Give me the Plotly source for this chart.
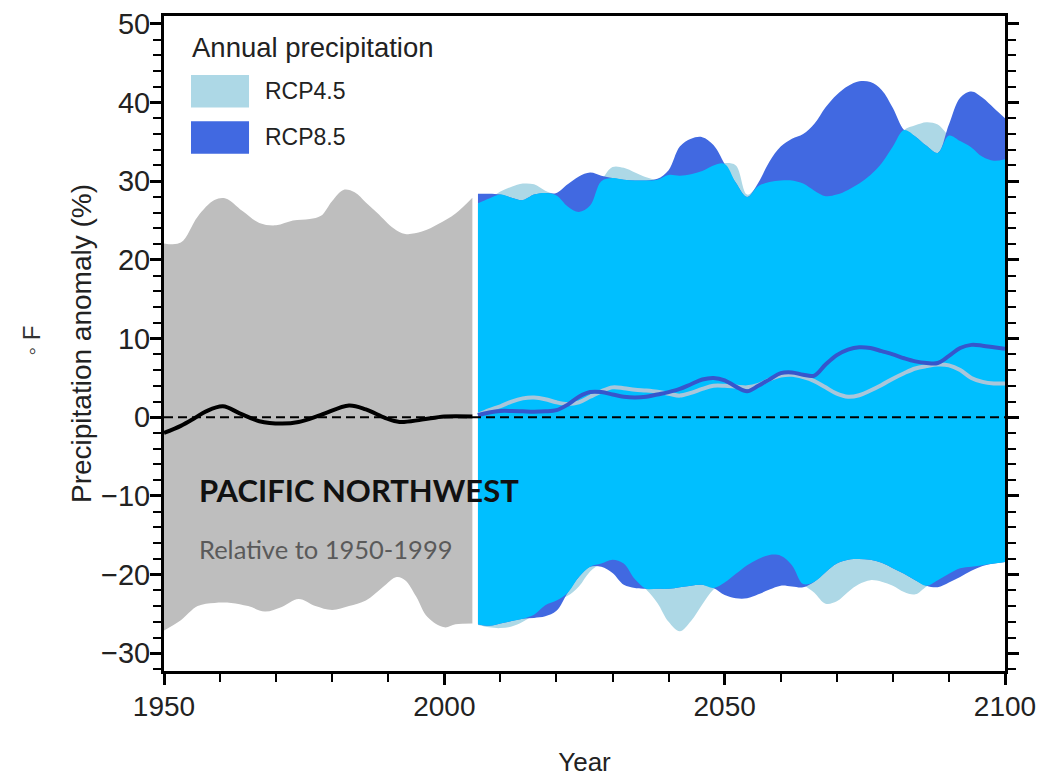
import numpy as np
import plotly.graph_objects as go

# ---------------- data ----------------
# historical (1950-2005) model range and mean
hist_up_years = [1950, 1953, 1956, 1959, 1961, 1964, 1967, 1970, 1973, 1976, 1978,
                 1980, 1982, 1984, 1986, 1988, 1991, 1993, 1996, 1999, 2002, 2005]
hist_up = [22.1, 22.2, 25.5, 27.6, 27.8, 26.2, 24.7, 24.4, 25.0, 25.2, 25.6,
           27.5, 28.9, 28.6, 27.3, 26.0, 24.0, 23.3, 23.6, 24.6, 25.9, 27.9]

hist_lo_years = [1950, 1953, 1956, 1959, 1962, 1965, 1968, 1971, 1974, 1977, 1980,
                 1983, 1986, 1989, 1991.5, 1993, 1995, 1997, 2000, 2002, 2005]
hist_lo = [-27.1, -25.8, -24.0, -23.6, -23.6, -24.0, -24.7, -24.1, -23.1, -24.0, -24.5,
           -24.0, -23.3, -21.6, -20.3, -20.7, -22.8, -25.4, -26.7, -26.3, -26.2]

hist_mean_years = [1950, 1953, 1955.5, 1957.5, 1960.5, 1963.5, 1967, 1971, 1974, 1978,
                   1983, 1986, 1989.5, 1992, 1996, 2000, 2005]
hist_mean = [-2.0, -1.1, -0.1, 0.75, 1.4, 0.5, -0.5, -0.8, -0.6, 0.3,
             1.5, 1.0, -0.1, -0.6, -0.3, 0.1, 0.1]

# projections (2006-2100)
proj_years = list(range(2006, 2101, 2))

rcp45_upper = [27.2, 27.8, 28.7, 29.3, 29.7, 29.6, 28.8, 28.2, 26.8, 26.1,
               26.9, 30.0, 31.8, 31.7, 31.1, 30.5, 30.2, 30.8, 30.7, 30.9,
               31.3, 32.0, 32.3, 32.0, 28.3, 29.4, 29.9, 30.1, 30.1, 29.7,
               28.8, 28.1, 28.3, 28.9, 29.7, 30.8, 32.3, 34.4, 36.5, 37.1,
               37.5, 37.2, 35.8, 35.1, 34.3, 33.1, 32.6, 32.8]
rcp85_upper = [28.4, 28.4, 28.3, 27.9, 27.6, 28.3, 28.5, 28.5, 29.6, 30.6,
               31.1, 30.7, 30.4, 30.2, 30.1, 30.1, 30.3, 31.4, 34.4, 35.4,
               35.6, 34.6, 32.2, 29.8, 28.0, 29.8, 32.5, 34.4, 35.4, 36.0,
               37.3, 39.4, 41.0, 42.1, 42.7, 42.6, 41.6, 39.3, 36.5, 35.7,
               34.5, 33.6, 37.2, 40.6, 41.4, 40.6, 39.3, 38.0]
rcp45_lower = [-26.4, -26.7, -26.8, -26.6, -26.0, -25.1, -23.9, -23.3, -22.7, -21.5,
               -19.6, -18.6, -18.1, -18.6, -20.6, -21.9, -23.6, -26.0, -27.2, -25.9,
               -23.8, -21.9, -21.0, -19.9, -18.8, -18.0, -17.5, -17.6, -18.8, -21.2,
               -22.3, -23.7, -23.4, -22.2, -21.2, -20.7, -20.9, -21.4, -22.2, -22.5,
               -21.5, -20.7, -19.9, -19.2, -19.0, -18.8, -18.6, -18.4]
rcp85_lower = [-26.3, -26.5, -26.2, -25.9, -25.6, -25.5, -25.3, -24.6, -22.3, -20.3,
               -19.0, -19.0, -19.8, -21.3, -21.7, -21.8, -21.8, -21.8, -21.6, -21.4,
               -21.3, -21.7, -22.6, -23.0, -23.0, -22.5, -21.9, -21.4, -21.5, -21.6,
               -20.9, -19.7, -18.6, -18.1, -18.0, -18.1, -18.5, -19.2, -19.9, -20.7,
               -21.4, -21.6, -21.0, -20.3, -19.5, -18.9, -18.6, -18.4]
rcp45_mean = [0.3, 0.9, 1.4, 2.0, 2.4, 2.5, 2.3, 1.9, 1.7, 1.9,
              2.6, 3.3, 3.8, 3.7, 3.5, 3.4, 3.25, 3.0, 2.75, 3.1,
              3.6, 4.0, 4.0, 3.9, 3.8, 4.1, 4.8, 5.3, 5.4, 5.1,
              4.6, 3.8, 3.0, 2.6, 2.8, 3.4, 4.1, 4.9, 5.6, 6.2,
              6.5, 6.7, 6.6, 6.0, 5.0, 4.5, 4.3, 4.3]
rcp85_mean = [0.25, 0.6, 0.8, 0.8, 0.75, 0.7, 0.75, 0.9, 1.6, 2.6,
              3.2, 3.2, 2.9, 2.6, 2.5, 2.6, 2.9, 3.2, 3.6, 4.2,
              4.8, 5.0, 4.7, 3.9, 3.3, 4.0, 4.8, 5.6, 5.7, 5.4,
              5.3, 6.7, 7.9, 8.6, 8.9, 8.8, 8.4, 8.0, 7.5, 7.1,
              6.9, 6.9, 7.8, 8.8, 9.2, 9.1, 8.9, 8.7]

# overlap of both ranges
overlap_upper = np.minimum(rcp45_upper, rcp85_upper)
overlap_lower = np.maximum(rcp45_lower, rcp85_lower)

# ---------------- style ----------------
GRAY = "#bebebe"
LIGHT = "#add8e6"
DARK = "#4169e1"
OVER = "#00bfff"
M45_COL = "#aac6da"
M85_COL = "#3656cc"
FONT = "Liberation Sans, Arial, sans-serif"

fig = go.Figure()


def band(x_lo, lo, x_up, up, color):
    fig.add_trace(go.Scatter(x=x_lo, y=lo, mode="lines", line=dict(width=0, shape="spline"),
                             showlegend=False, hoverinfo="skip"))
    fig.add_trace(go.Scatter(x=x_up, y=up, mode="lines", line=dict(width=0, shape="spline"),
                             fill="tonexty", fillcolor=color, showlegend=False, hoverinfo="skip"))


band(hist_lo_years, hist_lo, hist_up_years, hist_up, GRAY)
band(proj_years, rcp45_lower, proj_years, rcp45_upper, LIGHT)
band(proj_years, rcp85_lower, proj_years, rcp85_upper, DARK)
band(proj_years, overlap_lower, proj_years, overlap_upper, OVER)

fig.add_trace(go.Scatter(x=proj_years, y=rcp45_mean, mode="lines",
                         line=dict(color=M45_COL, width=4, shape="spline"), showlegend=False))
fig.add_trace(go.Scatter(x=proj_years, y=rcp85_mean, mode="lines",
                         line=dict(color=M85_COL, width=4, shape="spline"), showlegend=False))
fig.add_trace(go.Scatter(x=hist_mean_years, y=hist_mean, mode="lines",
                         line=dict(color="black", width=4, shape="spline"), showlegend=False))

# zero reference line
fig.add_shape(type="line", xref="paper", x0=0, x1=1, yref="y", y0=0, y1=0,
              line=dict(color="black", width=2, dash="9px,5px"), layer="above")

# legend (drawn manually)
legend_items = [("RCP4.5", LIGHT, 0.8604, 0.9099, 0.8852),
                ("RCP8.5", DARK, 0.7898, 0.8393, 0.8146)]
for name, col, y0, y1, yc in legend_items:
    fig.add_shape(type="rect", xref="paper", yref="paper", x0=0.0321, x1=0.1011,
                  y0=y0, y1=y1, fillcolor=col, line=dict(width=0), layer="above")
    fig.add_annotation(xref="paper", yref="paper", x=0.1177, y=yc, text=name,
                       showarrow=False, xanchor="left", yanchor="middle",
                       font=dict(family=FONT, size=23, color="#222"))
fig.add_annotation(xref="paper", yref="paper", x=0.0309, y=0.952, text="Annual precipitation",
                   showarrow=False, xanchor="left", yanchor="middle",
                   font=dict(family=FONT, size=27.5, color="#222"))

fig.add_annotation(xref="x", yref="y", x=1955.9, y=-9.2, text="<b>PACIFIC NORTHWEST</b>",
                   showarrow=False, xanchor="left", yanchor="middle",
                   font=dict(family="Lato, Open Sans, sans-serif", size=31, color="#111"))
fig.add_annotation(xref="x", yref="y", x=1955.9, y=-16.8, text="Relative to 1950-1999",
                   showarrow=False, xanchor="left", yanchor="middle",
                   font=dict(family="Lato, Open Sans, sans-serif", size=25.5, color="#5a5a5a"))

fig.add_annotation(xref="paper", yref="paper", x=-0.157, y=0.5045, text="◦ F",
                   textangle=-90, showarrow=False, xanchor="center", yanchor="middle",
                   font=dict(family=FONT, size=24, color="#333"))

fig.update_layout(
    width=1044, height=781,
    margin=dict(l=164, r=39, t=8, b=107),
    paper_bgcolor="white", plot_bgcolor="white",
    showlegend=False,
    font=dict(family=FONT, color="#222"),
)
fig.update_xaxes(
    range=[1950, 2100], tick0=1950, dtick=50, ticks="outside", ticklen=11, tickwidth=2.5,
    tickcolor="black", showline=True, linewidth=3, linecolor="black", mirror=True,
    showgrid=False, zeroline=False, ticklabelstandoff=-3,
    tickfont=dict(family=FONT, size=28, color="#222"),
    minor=dict(dtick=10, ticks="outside", ticklen=8, tickwidth=2, tickcolor="black", showgrid=False),
    title=dict(text="Year", font=dict(family=FONT, size=26, color="#222"), standoff=33),
)
fig.update_yaxes(
    range=[-32.25, 51], tick0=0, dtick=10, ticks="outside", ticklen=11, tickwidth=2.5,
    tickcolor="black", showline=True, linewidth=3, linecolor="black", mirror="ticks",
    showgrid=False, zeroline=False, ticklabelstandoff=-6,
    tickfont=dict(family=FONT, size=29, color="#222"),
    minor=dict(dtick=2, ticks="outside", ticklen=8, tickwidth=2, tickcolor="black", showgrid=False),
    title=dict(text="Precipitation anomaly (%)", font=dict(family=FONT, size=28, color="#222"),
               standoff=2),
)

fig.write_html("out.html", config={"displayModeBar": False},
               post_script="document.body.style.margin='0px';")
